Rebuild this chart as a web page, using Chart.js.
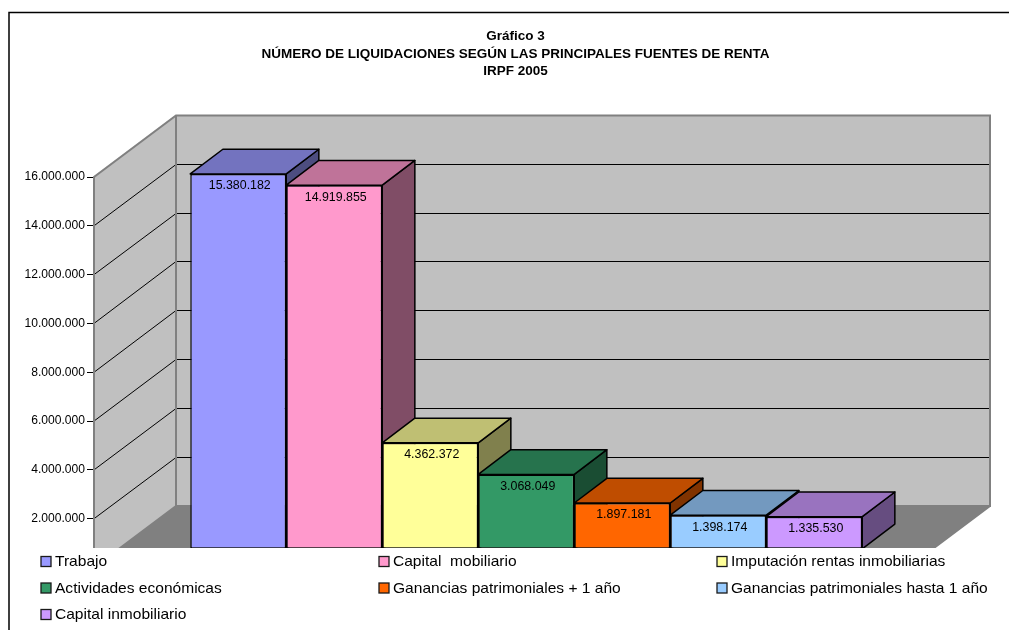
<!DOCTYPE html>
<html><head><meta charset="utf-8">
<style>html,body{margin:0;padding:0;background:#fff}#w{position:relative;width:1009px;height:630px}</style>
<script src="https://cdn.jsdelivr.net/npm/chart.js@4"></script></head>
<body><div id="w"><canvas id="c" width="1009" height="630"></canvas></div>
<script>
const titleLines = ['Gráfico 3','NÚMERO DE LIQUIDACIONES SEGÚN LAS PRINCIPALES FUENTES DE RENTA','IRPF 2005'];
const seriesNames = ['Trabajo','Capital  mobiliario','Imputación rentas inmobiliarias','Actividades económicas','Ganancias patrimoniales + 1 año','Ganancias patrimoniales hasta 1 año','Capital inmobiliario'];
const seriesValues = [15380182,14919855,4362372,3068049,1897181,1398174,1335530];
const seriesColors = ['#9999ff','#ff99cc','#ffff99','#339966','#ff6600','#99ccff','#cc99ff'];
const category = ['2005'];
const FONT = '"Liberation Sans", Arial, sans-serif';
const WALL = {dx:82, dy:-61.5, right:990};
const BAR = {dx:25.25, dy:-18.2, depthX:32.6, depthY:-24.7};
const CUT_Y = 548;
const fmt = v => String(Math.round(v)).replace(/\B(?=(\d{3})+$)/g,'.');
const shade = (hex,f) => {
  const n = parseInt(hex.slice(1),16);
  return 'rgb('+[n>>16,(n>>8)&255,n&255].map(c=>Math.round(c*f)).join(',')+')';
};
const poly = (ctx,pts,fill,stroke,lw) => {
  ctx.beginPath();
  pts.forEach((p,i)=> i?ctx.lineTo(p[0],p[1]):ctx.moveTo(p[0],p[1]));
  ctx.closePath();
  if(fill){ctx.fillStyle=fill;ctx.fill();}
  if(stroke){ctx.strokeStyle=stroke;ctx.lineWidth=lw;ctx.lineJoin='round';ctx.stroke();}
};
const scene = {
  id:'scene',
  afterLayout(chart){
    const t = chart.titleBlock;
    t.left += 61.5; t.right += 61.5;
  },
  beforeDraw(chart){
    const ctx = chart.ctx;
    ctx.save();ctx.fillStyle='#fff';ctx.fillRect(0,0,chart.width,chart.height);ctx.restore();
  },
  beforeDatasetsDraw(chart){
    const ctx = chart.ctx, y = chart.scales.y, a = chart.chartArea;
    const L=a.left, B=y.getPixelForValue(0), T=y.getPixelForValue(16000000);
    const bL=L+WALL.dx, bT=T+WALL.dy, bB=B+WALL.dy, R=WALL.right;
    ctx.save();
    poly(ctx,[[L,B],[bL,bB],[R,bB],[R-WALL.dx,B]],'#808080');
    poly(ctx,[[L,T],[bL,bT],[bL,bB],[L,B]],'#c0c0c0');
    poly(ctx,[[bL,bT],[R,bT],[R,bB],[bL,bB]],'#c0c0c0');
    ctx.strokeStyle='#000';ctx.lineWidth=1;
    y.ticks.forEach(t=>{
      if(t.value<=0||t.value>=16000000) return;
      const py=y.getPixelForValue(t.value);
      const by=Math.floor(py+WALL.dy)+0.5;
      ctx.beginPath();ctx.moveTo(L,py);ctx.lineTo(bL,by);ctx.lineTo(R,by);ctx.stroke();
    });
    ctx.strokeStyle='#808080';ctx.lineWidth=2;ctx.lineJoin='miter';
    ctx.beginPath();ctx.moveTo(L,B);ctx.lineTo(L,T);ctx.lineTo(bL,bT);ctx.lineTo(R,bT);ctx.lineTo(R,bB);ctx.lineTo(bL,bB);ctx.lineTo(bL,bT);ctx.moveTo(bL,bB);ctx.lineTo(L,B);ctx.moveTo(R,bB);ctx.lineTo(R-WALL.dx,B);ctx.stroke();
    // side and top faces of the bars, from the bar elements
    chart.data.datasets.forEach((ds,i)=>{
      const el = chart.getDatasetMeta(i).data[0];
      const x0=el.x-el.width/2+BAR.dx, x1=el.x+el.width/2+BAR.dx, yt=el.y+BAR.dy, yb=el.base+BAR.dy;
      const dx=BAR.depthX, dy=BAR.depthY, col=seriesColors[i];
      poly(ctx,[[x1,yt],[x1+dx,yt+dy],[x1+dx,yb+dy],[x1,yb]],shade(col,0.5),'#000',1.5);
      poly(ctx,[[x0,yt],[x0+dx,yt+dy],[x1+dx,yt+dy],[x1,yt]],shade(col,0.75),'#000',1.5);
    });
    ctx.restore();
  },
  beforeDatasetDraw(chart){
    chart.ctx.save();chart.ctx.translate(BAR.dx,BAR.dy);
  },
  afterDatasetDraw(chart){
    chart.ctx.restore();
  },
  afterDatasetsDraw(chart){
    const ctx=chart.ctx;
    ctx.save();
    ctx.font='12.4px '+FONT;ctx.fillStyle='#000';ctx.textAlign='center';ctx.textBaseline='middle';
    chart.data.datasets.forEach((ds,i)=>{
      const el=chart.getDatasetMeta(i).data[0];
      ctx.fillText(fmt(ds.data[0]),el.x+BAR.dx+1.5,el.y+BAR.dy+12);
    });
    ctx.restore();
  },
  afterDraw(chart){
    const ctx=chart.ctx;
    ctx.save();
    ctx.fillStyle='#fff';ctx.fillRect(0,CUT_Y,chart.width,chart.height-CUT_Y);
    ctx.strokeStyle='#000';ctx.lineWidth=1.5;
    ctx.beginPath();ctx.moveTo(9,chart.height);ctx.lineTo(9,12.5);ctx.lineTo(chart.width,12.5);ctx.stroke();
    // legend
    const cols=[41,379,717], rows=[561.5,588,614.5];
    ctx.font='15.55px '+FONT;ctx.textAlign='left';ctx.textBaseline='middle';
    seriesNames.forEach((n,i)=>{
      const x=cols[i%3], y=rows[Math.floor(i/3)];
      ctx.fillStyle=seriesColors[i];ctx.fillRect(x,y-5,10,10);
      ctx.strokeStyle='#1a1a1a';ctx.lineWidth=1.3;ctx.strokeRect(x,y-5,10,10);
      ctx.fillStyle='#000';ctx.fillText(n,x+14,y+0.5);
    });
    ctx.restore();
  }
};
new Chart(document.getElementById('c'),{
  type:'bar',
  data:{
    labels:category,
    datasets:seriesNames.map((n,i)=>({
      label:n,data:[seriesValues[i]],backgroundColor:seriesColors[i],
      borderColor:'#000',borderWidth:1.5,borderSkipped:false,clip:false,
      categoryPercentage:672/814,barPercentage:1
    }))
  },
  options:{
    responsive:false,animation:false,devicePixelRatio:1,
    layout:{padding:{left:0,top:0,right:101,bottom:62.5}},
    plugins:{
      legend:{display:false},tooltip:{enabled:false},
      title:{display:true,text:titleLines,color:'#000',align:'center',
        font:{family:FONT,size:13.5,weight:'bold',lineHeight:1.3},
        padding:{top:27.5,bottom:96.85}}
    },
    scales:{
      x:{display:false},
      y:{min:0,max:16000000,
        afterFit(s){s.width=94;},
        border:{display:false},
        grid:{drawOnChartArea:false,tickLength:7,tickColor:'#000',tickWidth:1},
        ticks:{stepSize:2000000,padding:2,color:'#000',font:{family:FONT,size:12.1},callback:v=>fmt(v)}
      }
    }
  },
  plugins:[scene]
});
</script></body></html>
